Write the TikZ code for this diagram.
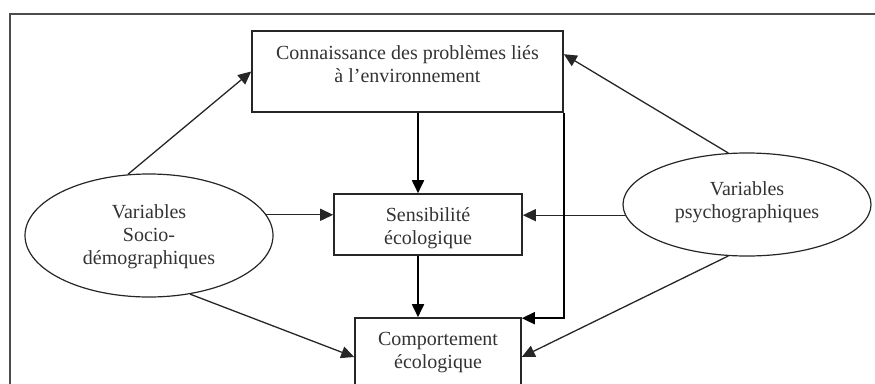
\documentclass[tikz,border=0pt]{standalone}
\usepackage{fontspec}
\setmainfont{Liberation Serif}
\usetikzlibrary{arrows.meta,shapes.geometric,calc}
\begin{document}
\begin{tikzpicture}[x=1pt,y=-1pt,
  txt/.style={font=\fontsize{20}{23}\selectfont,text=black!80,align=center,inner sep=0pt},
  boxnode/.style={draw=black!85,line width=1.6pt,inner sep=0pt},
  ell/.style={ellipse,draw=black!85,line width=1.2pt,inner sep=0pt,font=\fontsize{20}{23}\selectfont,text=black!80,align=center},
  arr/.style={draw=black!85,line width=1.3pt,-{Triangle[length=13pt,width=12pt]}},
  thickarr/.style={draw=black,line width=1.8pt,-{Triangle[length=13pt,width=12pt]}}]
\useasboundingbox (0,0) rectangle (875,383);
% frame
\draw[black!70,line width=1.6pt] (10,400) -- (10,14) -- (880,14);
% boxes
\node[boxnode,minimum width=311pt,minimum height=81pt] (cbox) at (407.5,71.5) {};
\node[txt] (ctext) at (407.5,64) {Connaissance des problèmes liés\\à l’environnement};
\node[boxnode,minimum width=188pt,minimum height=61pt] (sens) at (428,224.5) {};
\node[txt] (stext) at (428,228) {Sensibilité\\écologique};
\node[boxnode,minimum width=166pt,minimum height=80pt] (comp) at (438,358) {};
\node[txt] (ptext) at (438,353) {Comportement\\écologique};
% ellipses
\node[ell,minimum width=248pt,minimum height=123pt] (sd) at (149,235.5) {};
\node[txt] (sdtext) at (149,237) {Variables\\Socio-\\démographiques};
\node[ell,minimum width=248pt,minimum height=103pt] (psy) at (747,204.5) {};
\node[txt] (psytext) at (747,202) {Variables\\psychographiques};
% connectors
\draw[arr] (sd.109) -- (cbox.west);
\draw[arr] (psy.110) -- ([yshift=-24pt]cbox.north east);
\draw[thickarr] ([xshift=10.5pt]cbox.south) -- ([xshift=10.5pt]cbox.south |- sens.north);
\draw[arr] (sd.10) -- (sd.10 -| sens.west);
\draw[arr] (psy.185) -- (psy.185 -| sens.east);
\draw[thickarr] ([xshift=-10pt]sens.south) -- ([xshift=-10pt]sens.south |- comp.north);
\draw[thickarr] (cbox.south east) |- ([yshift=-1pt]comp.north east);
\draw[arr] (sd.-55) -- ([yshift=1pt]comp.west);
\draw[arr] (psy.-110) -- ([yshift=1pt]comp.east);
\end{tikzpicture}
\end{document}
